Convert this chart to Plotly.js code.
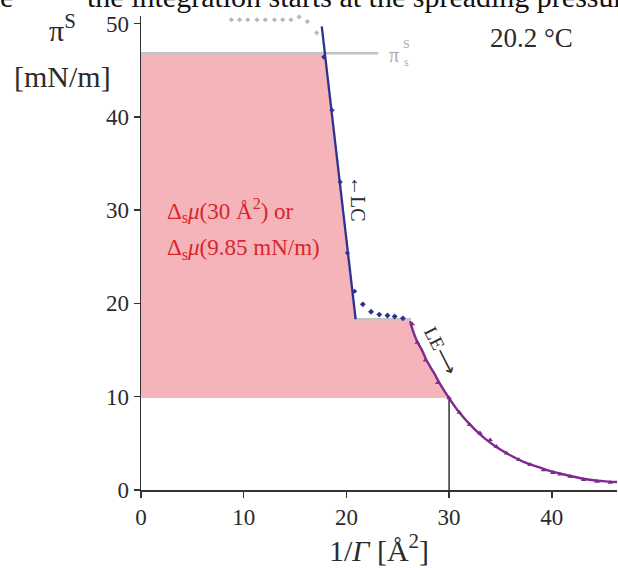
<!DOCTYPE html>
<html>
<head>
<meta charset="utf-8">
<script src="https://cdn.plot.ly/plotly-3.0.1.min.js"></script>
<style>html,body{margin:0;padding:0;background:#fff}#chart{width:618px;height:568px}</style>
</head>
<body>
<div id="chart"></div>
<script>
// ---- data ----
// spreading pressure level and integration lower bound
const piSpread = 46.8;
const piLower = 9.85;
const areaLower = 30;
const plateauPi = 18.3;
// LC branch (fitted straight line)
const lcLineX = [17.6, 20.9];
const lcLineY = [49.7, 18.3];
// LC measured points
const lcPtsX = [17.8, 18.6, 19.4, 20.1, 20.8];
const lcPtsY = [46.4, 40.7, 33.0, 25.4, 21.3];
// transition region points (blue dotted)
const trPtsX = [21.6, 22.4, 23.2, 24.0, 24.7, 25.5];
const trPtsY = [19.9, 19.1, 18.8, 18.7, 18.6, 18.4];
// collapsed region points above spreading pressure (gray)
const grayPtsX = [8.8, 9.6, 10.4, 11.3, 12.1, 13.0, 13.8, 14.6, 15.4, 16.2, 17.1];
const grayPtsY = [50.4, 50.4, 50.4, 50.4, 50.4, 50.4, 50.4, 50.4, 50.7, 50.2, 49.0];
// plateau line
const plateauX = [20.9, 26.3];
// LE branch fitted curve
const leCurveX = [26.2, 26.5, 26.9, 27.4, 27.8, 28.5, 29.1, 30.0, 31.0, 32.4, 33.5, 34.6, 36.0, 37.5, 39.0, 40.1, 41.8, 43.4, 45.0, 46.4];
const leCurveY = [18.1, 17.0, 15.9, 14.9, 13.9, 12.6, 11.4, 9.85, 8.3, 6.6, 5.5, 4.6, 3.7, 2.9, 2.35, 1.96, 1.5, 1.15, 0.95, 0.85];
// LE measured points
const lePtsX = [26.4, 26.9, 27.7, 28.9, 30.0, 31.0, 32.0, 33.0, 34.0, 34.6, 35.6, 36.8, 37.9, 39.2, 40.1, 40.8, 41.8, 43.1, 44.4, 45.7];
const lePtsY = [17.8, 15.8, 13.9, 11.5, 9.85, 8.3, 7.0, 6.1, 5.35, 4.65, 3.95, 3.25, 2.7, 2.15, 1.85, 1.7, 1.45, 1.1, 0.9, 0.8];
// axis ticks
const xTicks = [0, 10, 20, 30, 40];
const yTicks = [0, 10, 20, 30, 40, 50];

// ---- build integration area polygon ----
const lcAtSpread = lcLineX[0] + (lcLineY[0] - piSpread) / (lcLineY[0] - lcLineY[1]) * (lcLineX[1] - lcLineX[0]);
const fillX = [0, lcAtSpread, lcLineX[1], plateauX[1]];
const fillY = [piSpread, piSpread, plateauPi, plateauPi];
for (let i = 0; i < leCurveX.length; i++) {
  if (leCurveX[i] <= areaLower) { fillX.push(leCurveX[i]); fillY.push(leCurveY[i]); }
}
fillX.push(0); fillY.push(piLower);

const SERIF = 'Liberation Serif, Times New Roman, serif';
const TXT = '#2b2b2b';
const NAVY = '#2e3192';
const PURPLE = '#7d2a8e';
const GRAY = '#c4c4c4';

const traces = [
  {x: fillX, y: fillY, type: 'scatter', mode: 'lines', fill: 'toself',
   fillcolor: 'rgb(244,180,186)', line: {width: 0}, hoverinfo: 'skip'},
  {x: [0, 23.1], y: [piSpread, piSpread], type: 'scatter', mode: 'lines',
   line: {color: GRAY, width: 2.5}},
  {x: plateauX, y: [plateauPi, plateauPi], type: 'scatter', mode: 'lines',
   line: {color: GRAY, width: 2.5}},
  {x: [areaLower, areaLower], y: [0, piLower], type: 'scatter', mode: 'lines',
   line: {color: '#333', width: 1.5}},
  {x: grayPtsX, y: grayPtsY, type: 'scatter', mode: 'markers', cliponaxis: false,
   marker: {color: '#b8b8b8', size: 4, symbol: 'diamond'}},
  {x: lcLineX, y: lcLineY, type: 'scatter', mode: 'lines', cliponaxis: false,
   line: {color: NAVY, width: 2.3}},
  {x: lcPtsX, y: lcPtsY, type: 'scatter', mode: 'markers',
   marker: {color: NAVY, size: 4, symbol: 'diamond'}},
  {x: trPtsX, y: trPtsY, type: 'scatter', mode: 'markers',
   marker: {color: NAVY, size: 4.5, symbol: 'diamond'}},
  {x: leCurveX, y: leCurveY, type: 'scatter', mode: 'lines', cliponaxis: false,
   line: {color: PURPLE, width: 2.4, shape: 'spline', smoothing: 0.8}},
  {x: lePtsX, y: lePtsY, type: 'scatter', mode: 'markers', cliponaxis: false,
   marker: {color: PURPLE, size: 5, symbol: 'triangle-up'}}
];

const W = 618, H = 568, ML = 141, MR = 1, MT = 16, MB = 78;
const px = v => (v - ML) / (W - ML - MR);
const py = v => (H - MB - v) / (H - MT - MB);

function ann(text, xpix, ypix, size, color, extra) {
  return Object.assign({text: text, xref: 'paper', yref: 'paper', x: px(xpix), y: py(ypix),
    xanchor: 'center', yanchor: 'middle', showarrow: false,
    font: {family: SERIF, size: size, color: color}}, extra || {});
}

const layout = {
  width: W, height: H,
  margin: {l: ML, r: MR, t: MT, b: MB, pad: 0},
  paper_bgcolor: '#fff', plot_bgcolor: '#fff',
  showlegend: false,
  xaxis: {range: [0, 46.35], tickvals: xTicks, ticktext: xTicks.map(String),
    showline: true, linecolor: '#333', linewidth: 1.5, ticks: 'outside', ticklen: 6,
    tickwidth: 1.5, tickcolor: '#333', showgrid: false, zeroline: false,
    tickfont: {family: SERIF, size: 23, color: TXT}},
  yaxis: {range: [0, 50.8], tickvals: yTicks, ticktext: yTicks.map(String),
    showline: true, linecolor: '#333', linewidth: 1.5, ticks: 'outside', ticklen: 6,
    tickwidth: 1.5, tickcolor: '#333', showgrid: false, zeroline: false,
    tickfont: {family: SERIF, size: 23, color: TXT}},
  annotations: [
    ann('e', 6, -3, 30, '#111'),
    ann('the integration starts at the spreading pressure', 362, -3, 30, '#111'),
    ann('π<sup>S</sup>', 62, 28, 30, TXT),
    ann('[mN/m]', 62, 76, 30, TXT),
    ann('1/<i>Γ</i> [Å<sup>2</sup>]', 379, 548, 30, TXT),
    ann('20.2 °C', 531, 38, 27, TXT),
    ann('π', 394, 55, 20, '#aaa'),
    ann('S', 406, 44, 12, '#aaa'),
    ann('s', 406, 62, 12, '#aaa'),
    ann('Δ<sub>s</sub><i>μ</i>(30 Å<sup>2</sup>) or', 165, 210, 23, 'rgb(215,38,45)', {xanchor: 'left'}),
    ann('Δ<sub>s</sub><i>μ</i>(9.85 mN/m)', 165, 249, 23, 'rgb(215,38,45)', {xanchor: 'left'}),
    ann('←LC', 358, 199, 20, TXT, {textangle: 90}),
    ann('LE⟶', 441, 350, 19, TXT, {textangle: 63})
  ]
};

Plotly.newPlot('chart', traces, layout, {displayModeBar: false, staticPlot: true});
</script>
</body>
</html>
